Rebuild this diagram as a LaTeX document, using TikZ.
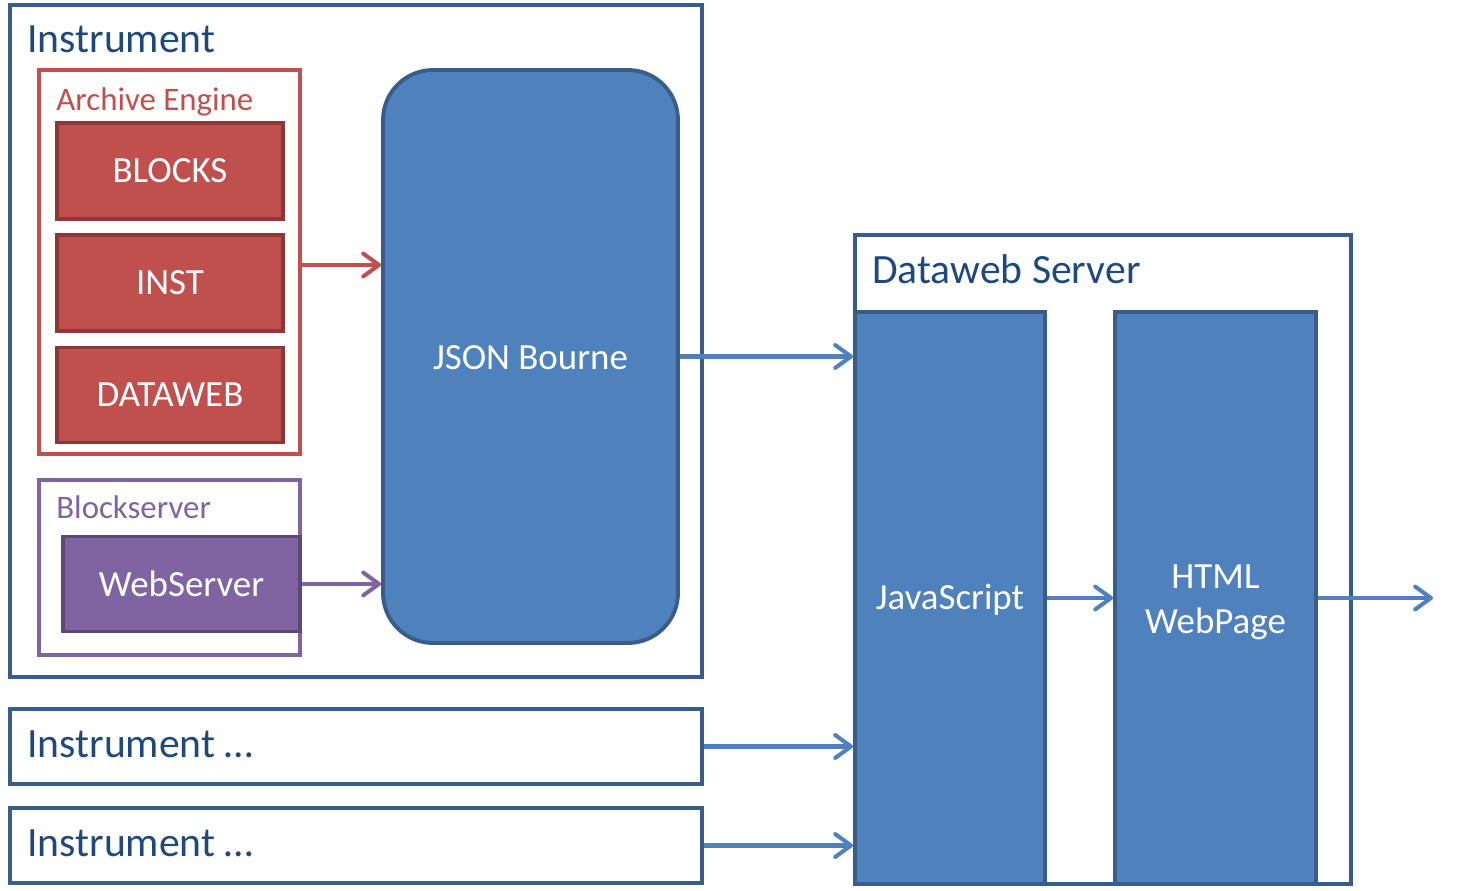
\documentclass[tikz,border=0pt]{standalone}
\usepackage{fontspec}
\setmainfont{Carlito}
\usepackage{xcolor}
\usepackage{tikz}
\usetikzlibrary{positioning,arrows.meta,calc}

\definecolor{bluefill}{HTML}{4F81BD}
\definecolor{blueline}{HTML}{385D8A}
\definecolor{bluetext}{HTML}{1F497D}
\definecolor{redfill}{HTML}{C0504D}
\definecolor{redline}{HTML}{8C3836}
\definecolor{purplefill}{HTML}{8064A2}
\definecolor{purpleline}{HTML}{5C4776}

\begin{document}
\begin{tikzpicture}[
    bigfont/.style={font=\fontsize{23.7pt}{28pt}\selectfont},
    midfont/.style={font=\fontsize{18.7pt}{22pt}\selectfont},
    boxfont/.style={font=\fontsize{21pt}{25.5pt}\selectfont},
    frame/.style={
        draw=blueline,
        line width=2pt,
        fill=white,
        inner sep=0pt
    },
    group/.style={
        draw=#1,
        line width=1.8pt,
        fill=white,
        inner sep=0pt
    },
    block/.style={
        draw=#1line,
        fill=#1fill,
        line width=2.2pt,
        inner sep=0pt,
        text=white,
        align=center,
        boxfont
    },
    arr/.style={
        draw=#1,
        line width=2.3pt,
        -{Straight Barb[length=9pt,width=13pt,line cap=round,line join=round]}
    }
]

\useasboundingbox (0,0) rectangle (29.14,-17.82);

% instrument frame
\node[frame, minimum width=13.84cm, minimum height=13.44cm] (instr) at (7.12,-6.82) {};
\node[bigfont, text=bluetext, anchor=base west, inner sep=0pt] (instrlbl) at (0.54,-1.05) {Instrument};

% archive engine
\node[group=redfill, minimum width=5.22cm, minimum height=7.68cm] (archive) at (3.39,-5.24) {};
\node[midfont, text=redfill, anchor=base west, inner sep=0pt] (archivelbl) at (1.12,-2.22) {Archive Engine};
\node[block=red, minimum width=4.52cm, minimum height=1.92cm] (blocks) at (3.40,-3.42) {BLOCKS};
\node[block=red, minimum width=4.52cm, minimum height=1.92cm] (inst) at (3.40,-5.66) {INST};
\node[block=red, minimum width=4.52cm, minimum height=1.90cm] (dataweb) at (3.40,-7.90) {DATAWEB};

% blockserver
\node[group=purplefill, minimum width=5.22cm, minimum height=3.50cm] (blockserver) at (3.39,-11.35) {};
\node[midfont, text=purplefill, anchor=base west, inner sep=0pt] (blockserverlbl) at (1.12,-10.38) {Blockserver};
\node[block=purple, minimum width=4.74cm, minimum height=1.90cm] (webserver) at (3.63,-11.68) {WebServer};

% json bourne
\node[block=blue, rounded corners=1.0cm, minimum width=5.90cm, minimum height=11.46cm] (json) at (10.61,-7.13) {};
\node[boxfont, text=white] (jsonlbl) at (10.61,-7.16) {JSON Bourne};

% other instruments
\node[frame, minimum width=13.84cm, minimum height=1.50cm] (instrb) at (7.12,-14.93) {};
\node[bigfont, text=bluetext, anchor=base west, inner sep=0pt] (instrblbl) at (0.54,-15.16) {Instrument …};
\node[frame, minimum width=13.84cm, minimum height=1.50cm] (instrc) at (7.12,-16.91) {};
\node[bigfont, text=bluetext, anchor=base west, inner sep=0pt] (instrclbl) at (0.54,-17.14) {Instrument …};

% dataweb server
\node[frame, minimum width=9.92cm, minimum height=12.98cm] (server) at (22.06,-11.19) {};
\node[bigfont, text=bluetext, anchor=base west, inner sep=0pt] (serverlbl) at (17.44,-5.67) {Dataweb Server};
\node[block=blue, minimum width=3.80cm, minimum height=11.44cm] (js) at (19.00,-11.96) {};
\node[boxfont, text=white] (jslbl) at (19.00,-12.00) {JavaScript};
\node[block=blue, minimum width=4.02cm, minimum height=11.44cm] (html) at (24.31,-11.96) {};
\node[boxfont, text=white, align=center] (htmllbl) at (24.31,-12.04) {HTML\\WebPage};
\coordinate (out) at (28.66,-11.96);

\draw[arr=redfill] ($(archive.east)+(0,-0.06)$) -- ($(archive.east -| json.west)+(0,-0.06)$);
\draw[arr=purplefill] (webserver.east) -- (webserver.east -| json.west);
\draw[arr=bluefill] (json.east) -- (json.east -| js.west);
\draw[arr=bluefill] (instrb.east) -- (instrb.east -| js.west);
\draw[arr=bluefill] (instrc.east) -- (instrc.east -| js.west);
\draw[arr=bluefill] (js.east) -- (html.west);
\draw[arr=bluefill] (html.east) -- (out);

\end{tikzpicture}
\end{document}
